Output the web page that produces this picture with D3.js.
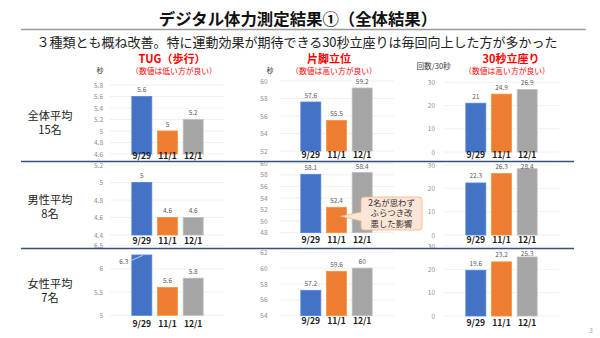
<!DOCTYPE html>
<html>
<head>
<meta charset="utf-8">
<script src="https://cdn.jsdelivr.net/npm/d3@7"></script>
<style>
body { margin: 0; background: #fff; }
text { font-family: "Noto Sans CJK JP", "Noto Sans", sans-serif; }
</style>
</head>
<body>
<script>
// デジタル体力測定結果 - 3 tests x 3 groups of small bar charts

// categories and labels
var dates = ["9/29", "11/1", "12/1"];
var groups = ["全体平均", "男性平均", "女性平均"];
var groupCounts = ["15名", "8名", "7名"];
var tests = ["TUG（歩行）", "片脚立位", "30秒立座り"];
var testNotes = ["（数値は低い方が良い）", "（数値は高い方が良い）", "（数値は高い方が良い）"];
var units = ["秒", "秒", "回数/30秒"];

// values (TUG)
var tugAll = [5.6, 5.0, 5.2];
var tugMale = [5.0, 4.6, 4.6];
var tugFemale = [6.3, 5.6, 5.8];
// values (片脚立位)
var standAll = [57.6, 55.5, 59.2];
var standMale = [58.1, 52.4, 58.4];
var standFemale = [57.2, 59.6, 60.0];
// values (30秒立座り)
var sitAll = [21.0, 24.9, 26.9];
var sitMale = [22.3, 26.3, 28.4];
var sitFemale = [19.6, 23.2, 25.3];

// tick labels
var tugTicksAll = [4.6, 4.8, 5, 5.2, 5.4, 5.6, 5.8];
var tugTicksMale = [4.4, 4.6, 4.8, 5, 5.2];
var tugTicksFemale = [5, 5.5, 6, 6.5];
var standTicksAll = [52, 54, 56, 58, 60];
var standTicksMale = [48, 50, 52, 54, 56, 58, 60];
var standTicksFemale = [54, 56, 58, 60, 62];
var sitTicks = [0, 10, 20, 30];

var callout = ["2名が思わず", "ふらつき改", "悪した影響"];

var barColors = ["#4472c4", "#ed7d31", "#a5a5a5"];

var width = 600, height = 338;

var svg = d3.select("body").append("svg")
    .attr("width", width)
    .attr("height", height);

// title
svg.append("text")
    .attr("x", 298).attr("y", 24.5)
    .attr("text-anchor", "middle")
    .attr("font-size", 16.4)
    .attr("font-weight", "bold")
    .attr("fill", "#111")
    .text("デジタル体力測定結果①（全体結果）");

svg.append("line")
    .attr("x1", 21).attr("x2", 586)
    .attr("y1", 29.5).attr("y2", 29.5)
    .attr("stroke", "#9a9a9a")
    .attr("stroke-width", 1.5);

svg.append("text")
    .attr("x", 297).attr("y", 47)
    .attr("text-anchor", "middle")
    .attr("font-size", 13)
    .attr("fill", "#222")
    .text("３種類とも概ね改善。特に運動効果が期待できる30秒立座りは毎回向上した方が多かった");

// layout of the 3x3 panels
var colX = [[110, 225], [279, 394], [444, 559]];
var tickRight = [103, 267.5, 435];
var headerX = [172, 329, 511];
var noteX = [174, 334, 507];
var rowY = [
    [[154, 85], [151, 81], [152, 82.3]],
    [[235, 165], [232.7, 163.3], [235, 165]],
    [[315.3, 245.7], [315.7, 252.3], [316, 246]]
];
var catY = [[158.5, 158, 158], [244, 243, 243], [327, 323.5, 325.5]];
var labelTop = [0, 169, 256];
var groupY = [116, 200, 284];

var panelData = [
    [tugAll, standAll, sitAll],
    [tugMale, standMale, sitMale],
    [tugFemale, standFemale, sitFemale]
];
var panelTicks = [
    [tugTicksAll, standTicksAll, sitTicks],
    [tugTicksMale, standTicksMale, sitTicks],
    [tugTicksFemale, standTicksFemale, sitTicks]
];

// column headers
tests.forEach(function(t, c) {
    svg.append("text")
        .attr("x", headerX[c]).attr("y", 63)
        .attr("text-anchor", "middle")
        .attr("font-size", 11)
        .attr("font-weight", "bold")
        .attr("fill", "#ff0000")
        .text(t);
    svg.append("text")
        .attr("x", noteX[c]).attr("y", 74)
        .attr("text-anchor", "middle")
        .attr("font-size", 7.8)
        .attr("fill", "#ff0000")
        .text(testNotes[c]);
});

// unit labels
svg.append("text").attr("x", 96.5).attr("y", 72.5)
    .attr("font-size", 7).attr("fill", "#333").text(units[0]);
svg.append("text").attr("x", 266.5).attr("y", 72.5)
    .attr("font-size", 7).attr("fill", "#333").text(units[1]);
svg.append("text").attr("x", 416.5).attr("y", 69)
    .attr("font-size", 7.6).attr("fill", "#333").text(units[2]);

// row labels
groups.forEach(function(g, r) {
    svg.append("text")
        .attr("x", 50).attr("y", groupY[r] + 3.5)
        .attr("text-anchor", "middle")
        .attr("font-size", 11.2)
        .attr("fill", "#222")
        .text(g);
    svg.append("text")
        .attr("x", 50).attr("y", groupY[r] + 18)
        .attr("text-anchor", "middle")
        .attr("font-size", 11.2)
        .attr("fill", "#222")
        .text(groupCounts[r]);
});

// draw each panel
var calloutAnchor = null;
for (var r = 0; r < 3; r++) {
    for (var c = 0; c < 3; c++) {
        var values = panelData[r][c];
        var ticks = panelTicks[r][c];

        var xScale = d3.scaleBand()
            .domain(dates)
            .range(colX[c])
            .paddingInner(0.222)
            .paddingOuter(0.85);
        var yScale = d3.scaleLinear()
            .domain(d3.extent(ticks))
            .range(rowY[r][c]);

        var g = svg.append("g");

        // gridlines
        g.selectAll(".grid")
            .data(ticks)
            .enter().append("line")
            .attr("x1", colX[c][0]).attr("x2", colX[c][1])
            .attr("y1", function(d) { return yScale(d); })
            .attr("y2", function(d) { return yScale(d); })
            .attr("stroke", "#ececec")
            .attr("stroke-width", 0.8);

        // y axis (labels only)
        var yAxis = d3.axisLeft(yScale)
            .tickValues(ticks)
            .tickSize(0)
            .tickPadding(0)
            .tickFormat(d3.format("~g"));
        var ay = g.append("g")
            .attr("transform", "translate(" + tickRight[c] + ",0)")
            .call(yAxis);
        ay.select(".domain").remove();
        ay.selectAll("text")
            .attr("font-size", 6.5)
            .attr("fill", "#8c8c8c")
            .style("font-family", "'Noto Sans CJK JP', sans-serif");

        // bars
        g.selectAll(".bar")
            .data(values)
            .enter().append("rect")
            .attr("x", function(d, i) { return xScale(dates[i]); })
            .attr("width", xScale.bandwidth())
            .attr("y", function(d) { return yScale(d); })
            .attr("height", function(d) { return yScale.range()[0] - yScale(d); })
            .attr("fill", function(d, i) { return barColors[i]; })
            .attr("stroke", function(d, i) { return d3.color(barColors[i]).brighter(0.4); })
            .attr("stroke-width", 0.8);

        // value labels
        values.forEach(function(v, i) {
            var top = yScale(v);
            var cx = xScale(dates[i]) + xScale.bandwidth() / 2;
            var ly = top - 4.5;
            if (top < labelTop[r] - 0.5) {
                // not enough room: place left of the bar with a leader line
                g.append("line")
                    .attr("x1", cx - 12).attr("y1", top + 6)
                    .attr("x2", cx + 1).attr("y2", top + 0.5)
                    .attr("stroke", "#dfe6f3").attr("stroke-width", 0.8);
                g.append("text")
                    .attr("x", cx - 18).attr("y", top + 9)
                    .attr("text-anchor", "middle")
                    .attr("font-size", 6.5)
                    .attr("fill", "#595959")
                    .text(d3.format("~g")(v));
                return;
            }
            if (ly < labelTop[r]) ly = labelTop[r];
            g.append("text")
                .attr("x", cx).attr("y", ly)
                .attr("text-anchor", "middle")
                .attr("font-size", 6.5)
                .attr("fill", "#595959")
                .text(d3.format("~g")(v));
        });

        // category labels
        g.selectAll(".cat")
            .data(dates)
            .enter().append("text")
            .attr("x", function(d) { return xScale(d) + xScale.bandwidth() / 2; })
            .attr("y", catY[r][c])
            .attr("text-anchor", "middle")
            .attr("font-size", 8.6)
            .attr("font-weight", "bold")
            .attr("fill", "#1a1a1a")
            .text(function(d) { return d; });

        if (r == 1 && c == 1) {
            calloutAnchor = {
                x: xScale(dates[1]) + xScale.bandwidth() * 0.7,
                y: yScale(values[1]) + 9
            };
        }
    }
}

// row separators
[161.5, 248.5].forEach(function(y) {
    svg.append("line")
        .attr("x1", 21).attr("x2", 574)
        .attr("y1", y).attr("y2", y)
        .attr("stroke", "#34507c")
        .attr("stroke-width", 1.5);
});

// callout box
var bx0 = 361, bx1 = 422, by0 = 197, by1 = 230, rr = 3;
var p = "M" + (bx0 + rr) + "," + by0 +
    " H" + (bx1 - rr) + " Q" + bx1 + "," + by0 + " " + bx1 + "," + (by0 + rr) +
    " V" + (by1 - rr) + " Q" + bx1 + "," + by1 + " " + (bx1 - rr) + "," + by1 +
    " H" + (bx0 + rr) + " Q" + bx0 + "," + by1 + " " + bx0 + "," + (by1 - rr) +
    " V221 L" + calloutAnchor.x + "," + calloutAnchor.y + " L" + bx0 + ",212" +
    " V" + (by0 + rr) + " Q" + bx0 + "," + by0 + " " + (bx0 + rr) + "," + by0 + " Z";
svg.append("path")
    .attr("d", p)
    .attr("fill", "#fbe5d6")
    .attr("stroke", "#f4b183")
    .attr("stroke-width", 0.8);

callout.forEach(function(t, i) {
    svg.append("text")
        .attr("x", 391.5).attr("y", 205.5 + i * 10.6)
        .attr("text-anchor", "middle")
        .attr("font-size", 8.4)
        .attr("fill", "#333")
        .text(t);
});

// page number
svg.append("text")
    .attr("x", 591).attr("y", 333)
    .attr("text-anchor", "middle")
    .attr("font-size", 7)
    .attr("fill", "#aaa")
    .text("3");
</script>
</body>
</html>
